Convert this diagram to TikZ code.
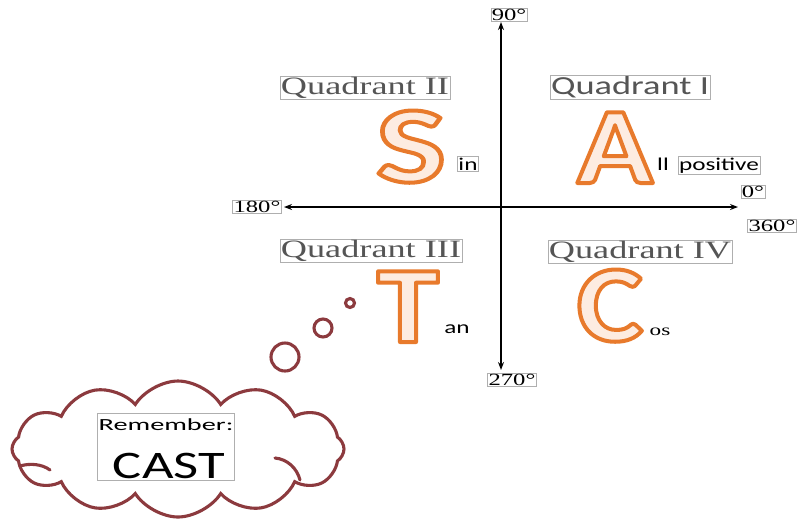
\documentclass[tikz,border=0pt]{standalone}
\usepackage{fontspec}
\usepackage{xcolor}
\usepackage{graphicx}
\usetikzlibrary{shapes.symbols,arrows.meta}
\newfontfamily\serifq[FakeStretch=1.45]{Liberation Serif}
\newfontfamily\sansq[FakeStretch=1.4]{Carlito}
\newfontfamily\bigq[FakeStretch=1.15]{Carlito}
\definecolor{qgrey}{RGB}{85,85,85}
\definecolor{boxgrey}{RGB}{175,175,175}
\definecolor{cloudred}{RGB}{140,58,62}
\definecolor{letterorange}{RGB}{232,122,44}
\definecolor{letterfill}{RGB}{253,236,225}
\newcommand{\outlined}[1]{{\color{letterfill}\special{pdf:literal direct 0.91 0.478 0.173 RG 2 Tr 4 w 1 j}#1\special{pdf:literal direct 0 Tr}}}
\begin{document}
\begin{tikzpicture}[x=1pt,y=-1pt,
  qlabel/.style={draw=boxgrey, line width=0.5pt, text=qgrey, inner sep=1pt, font=\serifq\fontsize{25}{25}\selectfont},
  qlabelsans/.style={draw=boxgrey, line width=0.5pt, text=qgrey, inner sep=1pt, font=\sansq\fontsize{26}{26}\selectfont},
  deglabel/.style={draw=boxgrey, line width=0.5pt, text=black, inner sep=1pt, font=\serifq\fontsize{17}{17}\selectfont},
  bigletter/.style={anchor=base, inner sep=0pt, font=\bigq\bfseries\fontsize{109}{109}\selectfont},
  smalltext/.style={anchor=base, inner sep=1pt, font=\sansq\fontsize{18}{18}\selectfont},
  smallboxed/.style={smalltext, draw=boxgrey, line width=0.5pt},
  axisline/.style={line width=1.4pt, {Stealth[length=8pt,width=6pt]}-{Stealth[length=8pt,width=6pt]}},
  thought/.style={draw=cloudred, line width=3.1pt, line cap=round}
]
\useasboundingbox (0,0) rectangle (799,531);
\fill[white] (0,0) rectangle (799,531);

% axes
\coordinate (top) at (501,22);
\coordinate (bottom) at (501,370);
\coordinate (left) at (284,207);
\coordinate (right) at (738,207);
\draw[axisline] (top) -- (bottom);
\draw[axisline] (left) -- (right);

% degree labels
\node[deglabel] (d90) at (509,15) {90°};
\node[deglabel] (d270) at (512,380) {270°};
\node[deglabel] (d180) at (257,207) {180°};
\node[deglabel] (d0) at (753,192) {0°};
\node[deglabel] (d360) at (772,226) {360°};

% quadrant labels
\node[qlabel] (q2) at (365,88) {Quadrant II};
\node[qlabelsans] (q1) at (630,87) {Quadrant I};
\node[qlabel] (q3) at (371,251) {Quadrant III};
\node[qlabel] (q4) at (640,252) {Quadrant IV};

% big letters
\node[bigletter] (S) at (411,182) {\outlined{\scalebox{1.18}[1]{S}}};
\node[bigletter] (A) at (615,183) {\outlined{A}};
\node[bigletter] (T) at (408,342) {\outlined{T}};
\node[bigletter] (C) at (610,341) {\outlined{C}};

% small texts
\node[smallboxed] (in) at (468,170) {in};
\node[smalltext] (ll) at (663,170) {ll};
\node[smallboxed] (pos) at (719,170) {positive};
\node[smalltext] (an) at (457,333) {an};
\node[anchor=base, inner sep=1pt, font=\serifq\fontsize{16}{16}\selectfont] (os) at (660,335) {os};

% thought bubbles
\node[thought, circle, minimum size=9pt, inner sep=0pt] (b1) at (350,303) {};
\node[thought, circle, minimum size=18pt, inner sep=0pt] (b2) at (323,328) {};
\node[thought, circle, minimum size=28pt, inner sep=0pt] (b3) at (285,357) {};

% cloud
\node[thought, cloud, cloud puffs=12, cloud puff arc=115, aspect=2.4,
      minimum width=332pt, minimum height=136pt, inner sep=0pt] (cloud) at (178,449) {};
\coordinate (la) at (20,466);
\coordinate (lb) at (50,470);
\coordinate (ra) at (275,458);
\coordinate (rb) at (300,480);
\draw[thought] (la) .. controls (30,463) and (42,464) .. (lb);
\draw[thought] (ra) .. controls (287,459) and (297,468) .. (rb);

% remember box
\node[draw=boxgrey, line width=0.5pt, minimum width=137pt, minimum height=67pt, inner sep=0pt]
  (rem) at (166,446.5) {};
\node[anchor=base, inner sep=0pt, font=\sansq\fontsize{17}{17}\selectfont] (remtxt) at (166,430) {\scalebox{1.19}[1]{Remember:}};
\node[anchor=base, inner sep=0pt, font=\sansq\fontsize{39}{39}\selectfont] (cast) at (169,478) {CAST};
\end{tikzpicture}
\end{document}
